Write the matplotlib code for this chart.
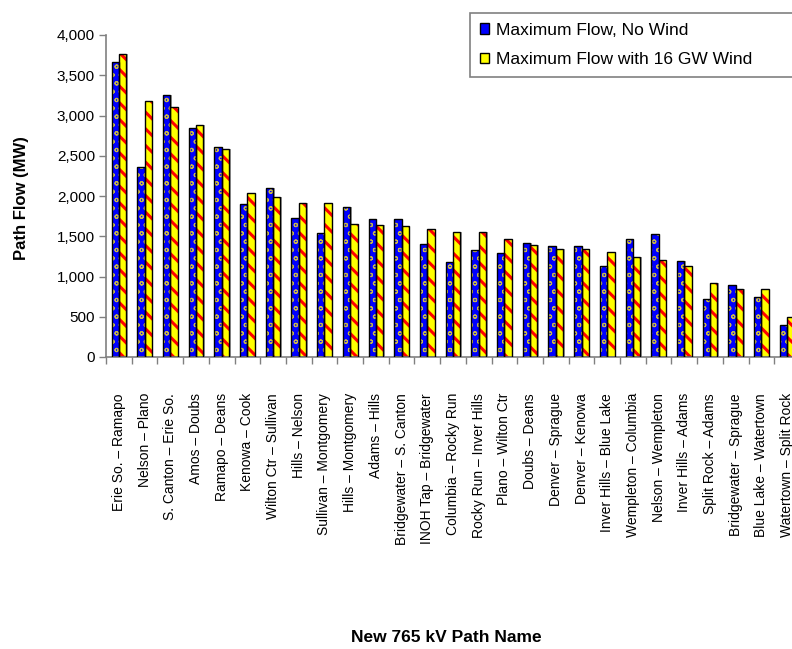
import matplotlib
matplotlib.use("Agg")
import matplotlib.pyplot as plt
from matplotlib.patches import Patch
from matplotlib.ticker import FuncFormatter
import numpy as np

plt.rcParams['font.family'] = ['Liberation Sans', 'DejaVu Sans']

paths = ['Erie So. – Ramapo', 'Nelson – Plano', 'S. Canton – Erie So.', 'Amos – Doubs',
         'Ramapo – Deans', 'Kenowa – Cook', 'Wilton Ctr – Sullivan', 'Hills – Nelson',
         'Sullivan – Montgomery', 'Hills – Montgomery', 'Adams – Hills',
         'Bridgewater – S. Canton', 'INOH Tap – Bridgewater', 'Columbia – Rocky Run',
         'Rocky Run – Inver Hills', 'Plano – Wilton Ctr', 'Doubs – Deans',
         'Denver – Sprague', 'Denver – Kenowa', 'Inver Hills – Blue Lake',
         'Wempleton – Columbia', 'Nelson – Wempleton', 'Inver Hills – Adams',
         'Split Rock – Adams', 'Bridgewater – Sprague', 'Blue Lake – Watertown',
         'Watertown – Split Rock']
no_wind = [3660, 2360, 3260, 2840, 2605, 1895, 2105, 1725, 1540, 1858, 1710, 1710, 1408,
           1180, 1328, 1296, 1412, 1375, 1375, 1126, 1462, 1528, 1193, 717, 894, 745, 398]
wind_16gw = [3762, 3184, 3100, 2886, 2588, 2036, 1990, 1908, 1908, 1656, 1640, 1623, 1586,
             1557, 1557, 1462, 1391, 1342, 1342, 1308, 1242, 1209, 1126, 915, 845, 845, 497]

fig = plt.figure(figsize=(7.92, 6.49), dpi=100)
ax = fig.add_axes([106/792, 1-357/649, 694/792, 322/649])

x = np.arange(len(paths))
w = 0.285

def hatched(xs, vals, face, hcolor, hatch, hlw):
    # shadow, pattern layer, then black outline
    ax.bar(xs + 0.06, vals, w, color='#a0a0a0', linewidth=0, zorder=1)
    bars = ax.bar(xs, vals, w, color=face, edgecolor=hcolor, hatch=hatch, linewidth=0, zorder=2)
    for b in bars:
        if hasattr(b, 'set_hatch_linewidth'):
            b.set_hatch_linewidth(hlw)
    ax.bar(xs, vals, w, fill=False, edgecolor='black', linewidth=1.0, zorder=3)

plt.rcParams['hatch.linewidth'] = 1.0
hatched(x - w/2, no_wind, '#0000ff', '#c8b84a', 'oo', 0.8)
plt.rcParams['hatch.linewidth'] = 2.2
hatched(x + w/2, wind_16gw, '#ffff00', '#ff0000', '\\\\', 2.2)

ax.set_xlim(-0.5, len(paths) - 0.5)
ax.set_ylim(0, 4000)
ax.set_yticks(np.arange(0, 4001, 500))
ax.yaxis.set_major_formatter(FuncFormatter(lambda v, p: f'{int(v):,}'))
ax.tick_params(axis='y', length=5, width=1, color='#808080', labelsize=11, pad=3)

ax.set_xticks(np.arange(len(paths) + 1) - 0.5)
ax.set_xticklabels([])
ax.set_xticks(x, minor=True)
ax.set_xticklabels(paths, minor=True, rotation=90, fontsize=10, va='top', ha='center')
ax.tick_params(axis='x', which='major', length=5, width=1, color='#808080')
ax.tick_params(axis='x', which='minor', length=0, pad=26)

for s in ['top', 'right']:
    ax.spines[s].set_visible(False)
for s in ['left', 'bottom']:
    ax.spines[s].set_color('#808080')
    ax.spines[s].set_linewidth(1.2)

fig.text(22/792, 1-198/649, 'Path Flow (MW)', rotation=90, fontsize=12, fontweight='bold',
         ha='center', va='center')
fig.text(446/792, 1-638/649, 'New 765 kV Path Name', fontsize=12.5, fontweight='bold',
         ha='center', va='center')

handles = [Patch(facecolor='#0000ff', edgecolor='black', label='Maximum Flow, No Wind'),
           Patch(facecolor='#ffff00', edgecolor='black', label='Maximum Flow with 16 GW Wind')]
leg = fig.legend(handles=handles, loc='upper left', bbox_to_anchor=(470/792, 1-13/649, 340/792, 0),
                 mode='expand', fontsize=12.5, handlelength=0.55, handleheight=0.55,
                 handletextpad=0.4, labelspacing=0.85, borderpad=0.55, borderaxespad=0,
                 fancybox=False, edgecolor='#808080', framealpha=1)
leg.get_frame().set_linewidth(1.2)

fig.savefig('out.png', dpi=100)
